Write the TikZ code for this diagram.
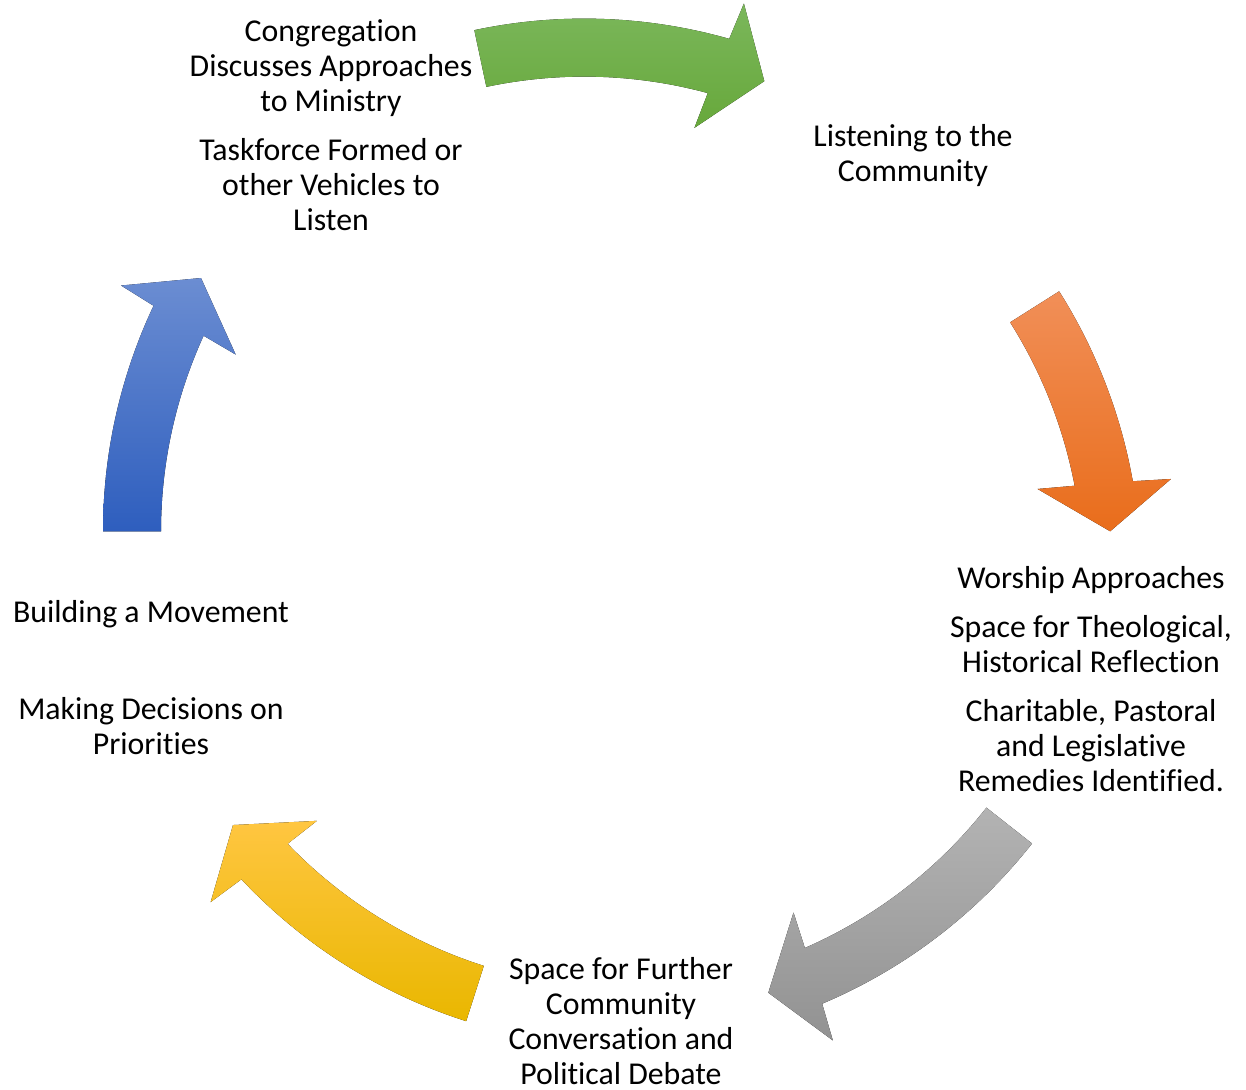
\documentclass[tikz,border=0pt]{standalone}
\usepackage{fontspec}
\setmainfont{Carlito}[Ligatures={NoCommon,NoContextual}]
\definecolor{vertH}{HTML}{7BB75B}
\definecolor{vertB}{HTML}{67A83B}
\definecolor{orangeH}{HTML}{F18F58}
\definecolor{orangeB}{HTML}{E96D1B}
\definecolor{grisH}{HTML}{B3B3B3}
\definecolor{grisB}{HTML}{929292}
\definecolor{jauneH}{HTML}{FFC641}
\definecolor{jauneB}{HTML}{E9B700}
\definecolor{bleuH}{HTML}{6B8DD2}
\definecolor{bleuB}{HTML}{2E5EBE}
\tikzset{
    etape/.style={align=center, anchor=base, inner sep=0pt,
        font=\fontsize{15.9}{17.5}\selectfont},
    flecheverte/.style={top color=vertH, bottom color=vertB},
    flecheorange/.style={top color=orangeH, bottom color=orangeB},
    flechegrise/.style={top color=grisH, bottom color=grisB},
    flechejaune/.style={top color=jauneH, bottom color=jauneB},
    flechebleue/.style={top color=bleuH, bottom color=bleuB}
}

\begin{document}
\begin{tikzpicture}[x=0.5pt, y=0.5pt]
	\useasboundingbox (0,0) rectangle (1246,1089);
	
	% rayons : milieu, bords du corps, pointes de la tête
	\def\Rm{500}
	\def\Ro{529}
	\def\Ri{471}
	\def\Rbo{567}
	\def\Rbi{434}
	
	% flèche courbe : style, centre, angle de la queue, angle de la pointe
	\def\flechecycle#1#2#3#4{
		\fill[#1, shift={(#2)}]
			(#3:\Ro) arc[start angle=#3, end angle={#4+5.2}, radius=\Ro]
			-- ({#4+4.75}:\Rbo) -- (#4:\Rm) -- ({#4+6.4}:\Rbi)
			-- ({#4+5.9}:\Ri) arc[start angle={#4+5.9}, end angle=#3, radius=\Ri]
			-- cycle;
	}
	
	% centres des arcs
	\coordinate (cvert) at (584.3,541.4);
	\coordinate (corange) at (612,515);
	\coordinate (cgris) at (616.3,572.6);
	\coordinate (cjaune) at (627,571.8);
	\coordinate (cbleu) at (632,557.6);
	
	\flechecycle{flecheverte}{cvert}{102}{68.9}
	\flechecycle{flecheorange}{corange}{32.3}{4.9}
	\flechecycle{flechegrise}{cgris}{-38.2}{-72.3}
	\flechecycle{flechejaune}{cjaune}{-107.7}{-142}
	\flechecycle{flechebleue}{cbleu}{180}{149.55}
	
	% textes des étapes (ancrés sur la ligne de base de la dernière ligne)
	\node[etape] (congregation) at (331,858)
		{Congregation\\Discusses Approaches\\to Ministry\\[7pt]
		 Taskforce Formed or\\other Vehicles to\\Listen};
	\node[etape] (ecoute) at (913,907)
		{Listening to the\\Community};
	\node[etape] (culte) at (1091,298)
		{Worship Approaches\\[7pt]Space for Theological,\\Historical Reflection\\[7pt]
		 Charitable, Pastoral\\and Legislative\\Remedies Identified.};
	\node[etape] (debat) at (621,5)
		{Space for Further\\Community\\Conversation and\\Political Debate};
	\node[etape] (mouvement) at (151,335)
		{Building a Movement\\[31pt]Making Decisions on\\Priorities};
	
\end{tikzpicture}
\end{document}
